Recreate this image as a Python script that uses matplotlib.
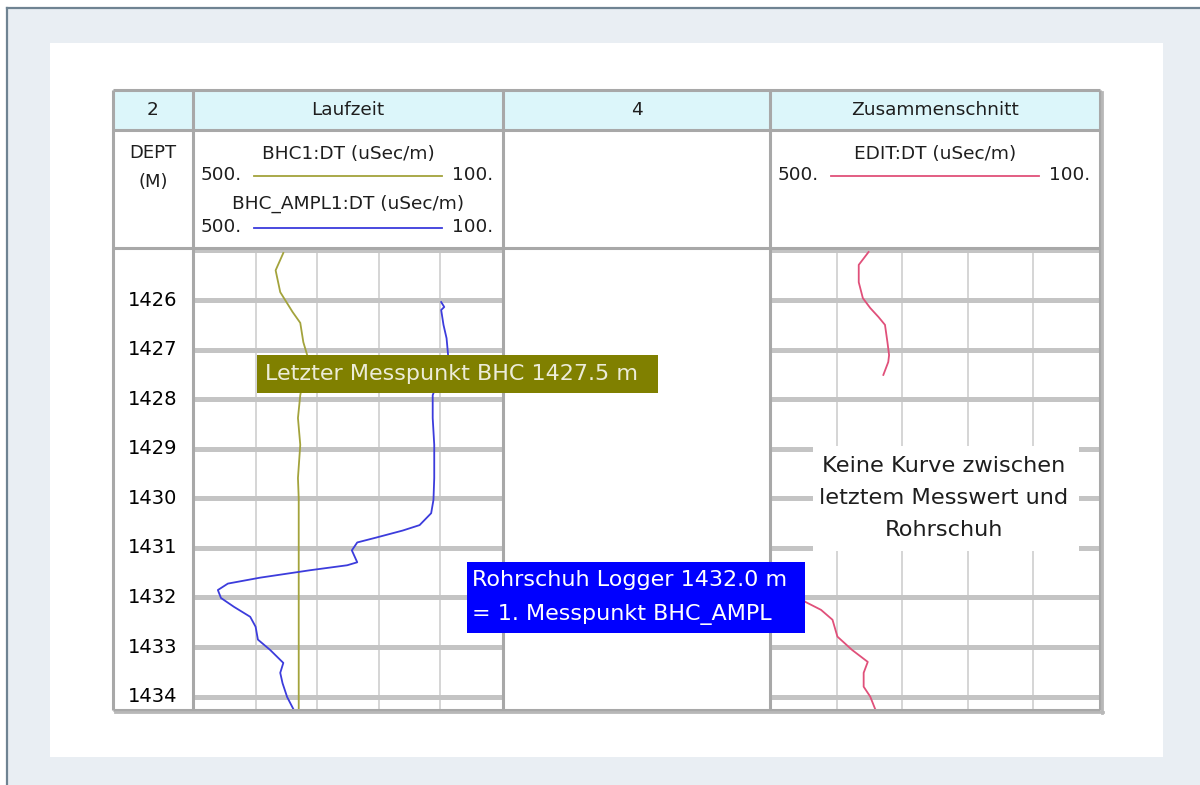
import matplotlib
matplotlib.use("Agg")
import matplotlib.pyplot as plt
from matplotlib.patches import Rectangle
from matplotlib.transforms import blended_transform_factory

W, H = 1200, 785

# depth range shown in the data area (top / bottom)
depth_top = 1424.99
depth_bot = 1434.25
depth_labels = [1426, 1427, 1428, 1429, 1430, 1431, 1432, 1433, 1434]
grid_depths = [1425, 1426, 1427, 1428, 1429, 1430, 1431, 1432, 1433, 1434]
grid_values = [420, 340, 260, 180]
scale_left, scale_right = 500, 100

# BHC1:DT (olive)
bhc1_depth = [1425.05, 1425.40, 1425.84, 1426.24, 1426.46, 1426.85, 1427.11, 1427.50,
              1427.92, 1428.38, 1428.92, 1429.59, 1430.00, 1431.00, 1432.00, 1433.00, 1434.27]
bhc1_dt = [384, 394, 388, 372, 362, 358, 353, 357,
           362, 365, 362, 365, 364, 364, 364, 364, 364]

# BHC_AMPL1:DT (blue)
ampl_depth = [1426.04, 1426.14, 1426.20, 1426.50, 1426.77, 1427.11, 1427.50, 1427.92,
              1428.38, 1428.92, 1429.59, 1430.03, 1430.30, 1430.54, 1430.65, 1430.79,
              1430.89, 1431.05, 1431.29, 1431.35, 1431.45, 1431.60, 1431.72, 1431.85,
              1432.01, 1432.19, 1432.39, 1432.59, 1432.85, 1433.06, 1433.32, 1433.52,
              1433.73, 1434.01, 1434.25]
ampl_dt = [179, 175, 179, 176, 172, 170, 180, 190,
           190, 188, 188, 189, 192, 207, 229, 263,
           288, 295, 288, 301, 349, 414, 456, 469,
           465, 448, 427, 420, 417, 401, 384, 388,
           385, 379, 371]

# EDIT:DT (red), two pieces with a gap
edit_top_depth = [1425.03, 1425.29, 1425.64, 1425.96, 1426.16, 1426.34, 1426.50,
                  1426.85, 1427.11, 1427.25, 1427.51]
edit_top_dt = [381, 393, 393, 388, 379, 369, 361, 358, 356, 357, 363]
edit_bot_depth = [1432.00, 1432.09, 1432.25, 1432.45, 1432.79, 1433.06, 1433.30,
                  1433.52, 1433.80, 1434.00, 1434.25]
edit_bot_dt = [465, 458, 439, 425, 419, 401, 382, 387, 387, 379, 373]

header_titles = ["2", "Laufzeit", "4", "Zusammenschnitt"]

OLIVE = "#a3a33c"
BLUE = "#3c3cdc"
RED = "#e0507a"
BORDER = "#a8a8a8"
HGRID = "#c4c4c4"
VGRID = "#d2d2d2"
TXT = "#1e1e1e"

col_x = [113, 193, 503, 770, 1100]
row_y = [90, 130, 248, 710]


def fig_box(x0, y0, x1, y1):
    return [x0 / W, 1 - y1 / H, (x1 - x0) / W, (y1 - y0) / H]


fig = plt.figure(figsize=(W / 100, H / 100), dpi=100, facecolor="white")

# background (frame, panel, header cells)
ax_bg = fig.add_axes([0, 0, 1, 1], zorder=0)
ax_bg.set_xlim(0, W)
ax_bg.set_ylim(H, 0)
ax_bg.axis("off")
ax_bg.add_patch(Rectangle((7, 8), W, H, fc="#e9eef3", ec="none"))
ax_bg.plot([7, W], [8, 8], color="#6f8392", lw=1.6)
ax_bg.plot([7, 7], [8, H], color="#6f8392", lw=1.6)
ax_bg.add_patch(Rectangle((50, 43), 1113, 714, fc="white", ec="none"))
ax_bg.add_patch(Rectangle((113, 90), 987, 40, fc="#dcf6fa", ec="none"))
ax_bg.add_patch(Rectangle((113, 130), 987, 580, fc="white", ec="none"))


def track_axes(x0, x1, with_grid=True):
    ax = fig.add_axes(fig_box(x0, 250, x1, 709), zorder=1)
    ax.set_ylim(depth_bot, depth_top)
    ax.set_xlim(scale_left, scale_right)
    ax.set_facecolor("white")
    for s in ax.spines.values():
        s.set_visible(False)
    ax.set_xticks([])
    ax.set_yticks([])
    if with_grid:
        for v in grid_values:
            ax.axvline(v, color=VGRID, lw=1.3, zorder=1)
        for d in grid_depths:
            ax.axhline(d, color=HGRID, lw=3.6, zorder=2)
    return ax


axd = track_axes(114, 192, with_grid=False)
for d in depth_labels:
    axd.text(0.5, d, str(d), transform=blended_transform_factory(axd.transAxes, axd.transData),
             ha="center", va="center", fontsize=14, color="black")

ax1 = track_axes(194, 502)
ax1.plot(bhc1_dt, bhc1_depth, color=OLIVE, lw=1.3, zorder=3)
ax1.plot(ampl_dt, ampl_depth, color=BLUE, lw=1.3, zorder=3)

ax2 = track_axes(504, 769, with_grid=False)

ax3 = track_axes(771, 1099)
ax3.plot(edit_top_dt, edit_top_depth, color=RED, lw=1.3, zorder=3)
ax3.plot(edit_bot_dt, edit_bot_depth, color=RED, lw=1.3, zorder=3)

# overlay: table lines, header texts, annotation boxes
ax_top = fig.add_axes([0, 0, 1, 1], zorder=5)
ax_top.set_xlim(0, W)
ax_top.set_ylim(H, 0)
ax_top.axis("off")
ax_top.patch.set_alpha(0)

for y in row_y:
    ax_top.plot([col_x[0], col_x[-1]], [y, y], color=BORDER, lw=2.2, solid_capstyle="butt")
for x in col_x:
    ax_top.plot([x, x], [row_y[0], row_y[-1]], color=BORDER, lw=2.2, solid_capstyle="butt")
# slight shadow on right / bottom
ax_top.plot([col_x[-1] + 2, col_x[-1] + 2], [row_y[0] + 2, row_y[-1] + 3], color="#b8b8b8", lw=2)
ax_top.plot([col_x[0] + 2, col_x[-1] + 3], [row_y[-1] + 2, row_y[-1] + 2], color="#b8b8b8", lw=2)

for i, t in enumerate(header_titles):
    xc = (col_x[i] + col_x[i + 1]) / 2
    ax_top.text(xc, 110, t, ha="center", va="center", fontsize=13.3, color=TXT)

ax_top.text(153, 153, "DEPT", ha="center", va="center", fontsize=13, color=TXT)
ax_top.text(153, 182, "(M)", ha="center", va="center", fontsize=13, color=TXT)


def legend_entry(x0, x1, y_title, y_line, name, color):
    ax_top.text((x0 + x1) / 2, y_title, name, ha="center", va="center", fontsize=13.3, color=TXT)
    ax_top.text(x0 + 8, y_line, "500.", ha="left", va="center", fontsize=13.3, color=TXT)
    ax_top.text(x1 - 10, y_line, "100.", ha="right", va="center", fontsize=13.3, color=TXT)
    ax_top.plot([x0 + 61, x1 - 61], [y_line + 1, y_line + 1], color=color, lw=1.3)


legend_entry(193, 503, 154, 175, "BHC1:DT (uSec/m)", OLIVE)
legend_entry(193, 503, 204, 227, "BHC_AMPL1:DT (uSec/m)", BLUE)
legend_entry(770, 1100, 154, 175, "EDIT:DT (uSec/m)", RED)

# annotations, vertically anchored on depth
tr = blended_transform_factory(ax_top.transData, ax1.transData)
tr3 = blended_transform_factory(ax_top.transData, ax3.transData)

ax_top.add_patch(Rectangle((257, 1427.5 - 0.385), 401, 0.77, transform=tr,
                           fc="#808000", ec="none", clip_on=False, zorder=10))
ax_top.text(265, 1427.5, "Letzter Messpunkt BHC 1427.5 m", transform=tr,
            ha="left", va="center", fontsize=16, color="#ececd8", zorder=11)

ax_top.add_patch(Rectangle((467, 1432.0 - 0.72), 338, 1.44, transform=tr,
                           fc="#0000ff", ec="none", clip_on=False, zorder=10))
ax_top.text(472, 1432.0, "Rohrschuh Logger 1432.0 m\n= 1. Messpunkt BHC_AMPL", transform=tr,
            ha="left", va="center", fontsize=16, color="white", linespacing=1.85, zorder=11)

ax_top.add_patch(Rectangle((813, 1430.0 - 1.06), 266, 2.12, transform=tr3,
                           fc="white", ec="none", clip_on=False, zorder=10))
ax_top.text(944, 1430.0, "Keine Kurve zwischen\nletztem Messwert und\nRohrschuh", transform=tr3,
            ha="center", va="center", fontsize=16.2, color=TXT, linespacing=1.75, zorder=11)

fig.savefig("out.png", dpi=100, facecolor=fig.get_facecolor())
